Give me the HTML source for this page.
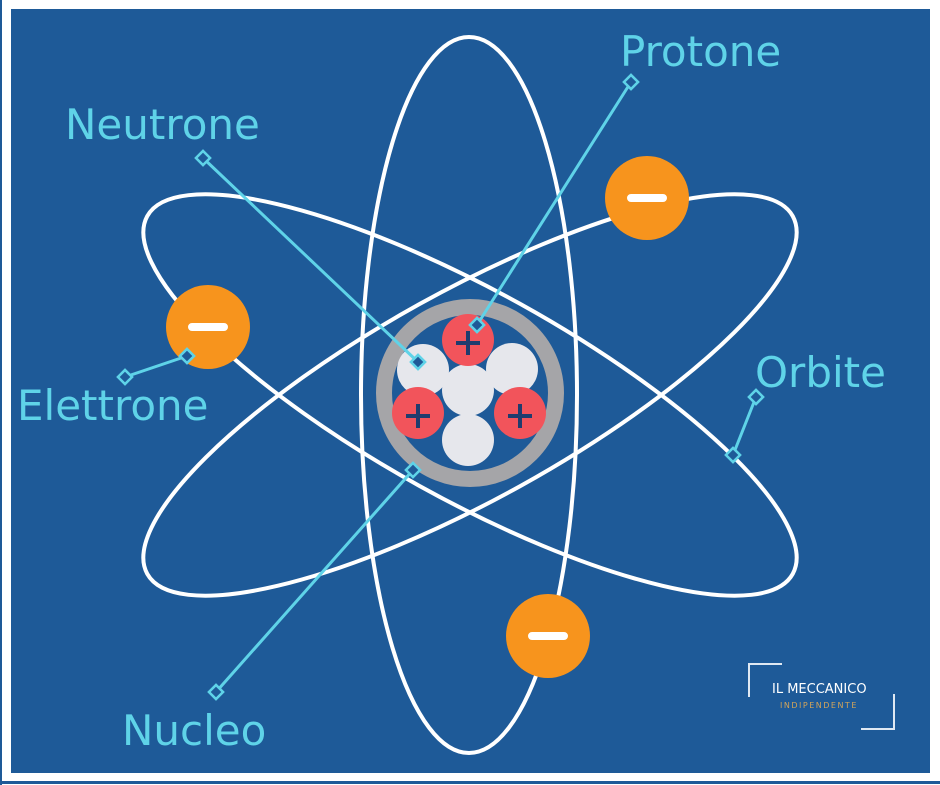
<!DOCTYPE html>
<html><head><style>
body{margin:0;background:#fff;width:940px;height:785px;overflow:hidden}
svg{display:block}
text{font-family:"DejaVu Sans","Liberation Sans",sans-serif}
</style></head><body>
<svg width="940" height="785" viewBox="0 0 940 785">
<rect x="0" y="0" width="2" height="785" fill="#1e5a98"/>
<rect x="11" y="9" width="919" height="764" fill="#1e5a98"/>
<rect x="0" y="781" width="940" height="3" fill="#1e5a98"/>
<g fill="none" stroke="#fff">
<ellipse cx="470" cy="395" rx="369" ry="104" transform="rotate(29 470 395)" stroke-width="4"/>
<ellipse cx="470" cy="395" rx="369" ry="104" transform="rotate(-29 470 395)" stroke-width="4"/>
<ellipse cx="469" cy="395" rx="108" ry="358" stroke-width="4"/>
</g>
<circle cx="470" cy="393" r="86" fill="#1e5a98" stroke="#a5a5a8" stroke-width="16"/>
<g fill="#e6e7ec">
<circle cx="423" cy="370" r="26"/><circle cx="512" cy="369" r="26"/>
<circle cx="468" cy="390" r="26"/><circle cx="468" cy="440" r="26"/>
</g>
<g fill="#f2545b"><circle cx="468" cy="340" r="26"/><circle cx="418" cy="413" r="26"/><circle cx="520" cy="413" r="26"/></g>
<g stroke="#1f3c6e" stroke-width="4">
<path d="M456 343h24M468 331v24M406 416h24M418 404v24M508 416h24M520 404v24"/>
</g>
<g fill="#f7941d"><circle cx="208" cy="327" r="42"/><circle cx="647" cy="198" r="42"/><circle cx="548" cy="636" r="42"/></g>
<g stroke="#fff" stroke-width="8" stroke-linecap="round">
<path d="M192 327h32M631 198h32M532 636h32"/></g>
<g stroke="#5fd3e8" stroke-width="3" fill="none">
<path d="M203 158L418 362M631 82L477 325M125 377L187 356M756 397L733 455M216 692L413 470"/>
<g fill="#1e5a98" stroke-width="2.5">
<rect x="-5" y="-5" width="10" height="10" transform="translate(203 158) rotate(45)"/>
<rect x="-5" y="-5" width="10" height="10" transform="translate(418 362) rotate(45)"/>
<rect x="-5" y="-5" width="10" height="10" transform="translate(631 82) rotate(45)"/>
<rect x="-5" y="-5" width="10" height="10" transform="translate(477 325) rotate(45)"/>
<rect x="-5" y="-5" width="10" height="10" transform="translate(125 377) rotate(45)"/>
<rect x="-5" y="-5" width="10" height="10" transform="translate(187 356) rotate(45)"/>
<rect x="-5" y="-5" width="10" height="10" transform="translate(756 397) rotate(45)"/>
<rect x="-5" y="-5" width="10" height="10" transform="translate(733 455) rotate(45)"/>
<rect x="-5" y="-5" width="10" height="10" transform="translate(216 692) rotate(45)"/>
<rect x="-5" y="-5" width="10" height="10" transform="translate(413 470) rotate(45)"/>
</g></g>
<g fill="#5fd3e8" font-size="42">
<text x="620" y="66">Protone</text>
<text x="65" y="139">Neutrone</text>
<text x="17" y="420">Elettrone</text>
<text x="755" y="387">Orbite</text>
<text x="122" y="745">Nucleo</text>
</g>
<g stroke="#dfe8f2" stroke-width="2" fill="none">
<path d="M749 697V664H782M894 694V729H861"/></g>
<text x="772" y="693" font-size="13" fill="#fff" font-family="Liberation Serif,serif">IL MECCANICO</text>
<text x="780" y="708" font-size="8" fill="#d2a45a" letter-spacing="1.5">INDIPENDENTE</text>
</svg>
</body></html>
